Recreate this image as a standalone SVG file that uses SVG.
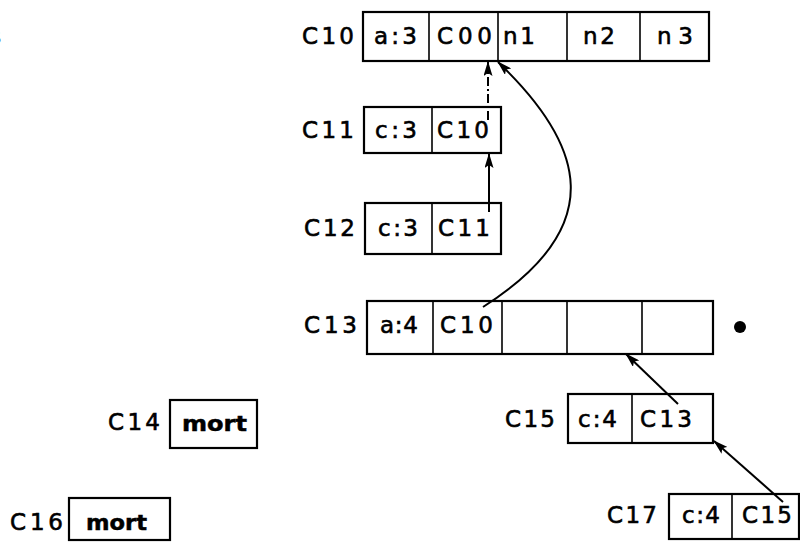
<svg xmlns="http://www.w3.org/2000/svg" width="800" height="543" viewBox="0 0 800 543">
<style>
.box{fill:none;stroke:#000;stroke-width:2.2}
.div{stroke:#000;stroke-width:1.6}
.t{font-family:"DejaVu Sans","Liberation Sans",sans-serif;font-size:23px;fill:#000;stroke:#000;stroke-width:0.6}
.b{font-family:"DejaVu Sans","Liberation Sans",sans-serif;font-size:22px;font-weight:bold;fill:#000;stroke:#000;stroke-width:0.5}
.c{fill:none;stroke:#000;stroke-width:2}
</style>
<defs>
<marker id="ah" markerUnits="userSpaceOnUse" markerWidth="15" markerHeight="9" refX="14" refY="4.5" orient="auto">
<path d="M0,0 L15,4.5 L0,9 L3,4.5 z" fill="#000"/>
</marker>
</defs>
<rect width="800" height="543" fill="#fff"/>
<text class="t" x="-11" y="44">s</text>
<g id="C10">
<text class="t" x="302" y="44" textLength="52" lengthAdjust="spacing">C10</text>
<rect class="box" x="363" y="12" width="346" height="49"/>
<line class="div" x1="429" y1="12" x2="429" y2="61"/>
<line class="div" x1="498" y1="12" x2="498" y2="61"/>
<line class="div" x1="567" y1="12" x2="567" y2="61"/>
<line class="div" x1="640" y1="12" x2="640" y2="61"/>
<text class="t" x="374" y="44" textLength="43" lengthAdjust="spacing">a:3</text>
<text class="t" x="437" y="44" textLength="55" lengthAdjust="spacing">C00</text>
<text class="t" x="503" y="44" textLength="32" lengthAdjust="spacing">n1</text>
<text class="t" x="583" y="44" textLength="32" lengthAdjust="spacing">n2</text>
<text class="t" x="657" y="44" textLength="36" lengthAdjust="spacing">n3</text>
</g>
<g id="C11">
<text class="t" x="302" y="138" textLength="52" lengthAdjust="spacing">C11</text>
<rect class="box" x="364" y="107" width="137" height="46"/>
<line class="div" x1="432" y1="107" x2="432" y2="153"/>
<text class="t" x="375" y="138" textLength="42" lengthAdjust="spacing">c:3</text>
<text class="t" x="437" y="138" textLength="52" lengthAdjust="spacing">C10</text>
</g>
<g id="C12">
<text class="t" x="304" y="236" textLength="51" lengthAdjust="spacing">C12</text>
<rect class="box" x="365" y="203" width="136" height="51"/>
<line class="div" x1="432" y1="203" x2="432" y2="254"/>
<text class="t" x="378" y="236" textLength="40" lengthAdjust="spacing">c:3</text>
<text class="t" x="438" y="236" textLength="52" lengthAdjust="spacing">C11</text>
</g>
<g id="C13">
<text class="t" x="304" y="333" textLength="53" lengthAdjust="spacing">C13</text>
<rect class="box" x="367" y="301" width="346" height="53"/>
<line class="div" x1="433" y1="301" x2="433" y2="354"/>
<line class="div" x1="502" y1="301" x2="502" y2="354"/>
<line class="div" x1="567" y1="301" x2="567" y2="354"/>
<line class="div" x1="642" y1="301" x2="642" y2="354"/>
<text class="t" x="380" y="333" textLength="38" lengthAdjust="spacing">a:4</text>
<text class="t" x="440" y="333" textLength="53" lengthAdjust="spacing">C10</text>
<circle cx="740" cy="327" r="6" fill="#000"/>
</g>
<g id="C14">
<text class="t" x="108" y="430" textLength="52" lengthAdjust="spacing">C14</text>
<rect class="box" x="170" y="400" width="87" height="48"/>
<text class="b" x="182" y="431" textLength="65" lengthAdjust="spacingAndGlyphs">mort</text>
</g>
<g id="C15">
<text class="t" x="505" y="427" textLength="50" lengthAdjust="spacing">C15</text>
<rect class="box" x="568" y="394" width="145" height="49"/>
<line class="div" x1="632" y1="394" x2="632" y2="443"/>
<text class="t" x="578" y="427" textLength="39" lengthAdjust="spacing">c:4</text>
<text class="t" x="640" y="427" textLength="52" lengthAdjust="spacing">C13</text>
</g>
<g id="C16">
<text class="t" x="10" y="530" textLength="53" lengthAdjust="spacing">C16</text>
<rect class="box" x="69" y="498" width="101" height="42"/>
<text class="b" x="86" y="530" textLength="61" lengthAdjust="spacingAndGlyphs">mort</text>
</g>
<g id="C17">
<text class="t" x="607" y="523" textLength="50" lengthAdjust="spacing">C17</text>
<rect class="box" x="669" y="494" width="130" height="45"/>
<line class="div" x1="732" y1="494" x2="732" y2="539"/>
<text class="t" x="682" y="523" textLength="38" lengthAdjust="spacing">c:4</text>
<text class="t" x="742" y="523" textLength="50" lengthAdjust="spacing">C15</text>
</g>
<g id="connectors">
<path class="c" d="M488,120 L488,62" stroke-dasharray="9 3 2 3" marker-end="url(#ah)"/>
<path class="c" d="M489,212 L489,154" marker-end="url(#ah)"/>
<path class="c" d="M483,307 C610,226 585,145 498,62" marker-end="url(#ah)"/>
<path class="c" d="M678,404 L626,354" marker-end="url(#ah)"/>
<path class="c" d="M783,502 L714,441" marker-end="url(#ah)"/>
</g>
</svg>
